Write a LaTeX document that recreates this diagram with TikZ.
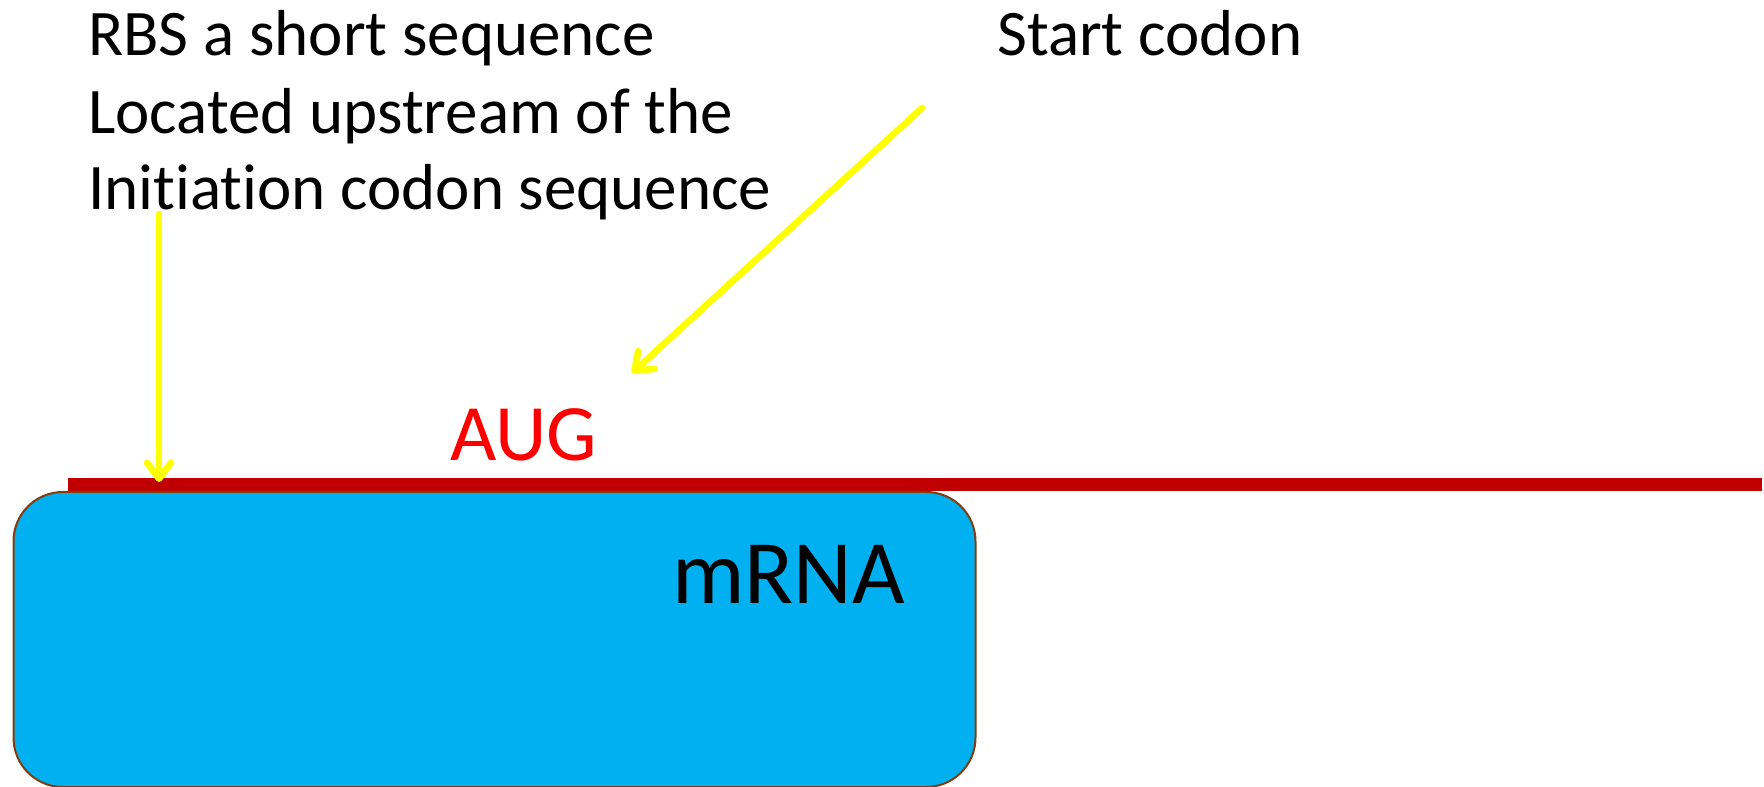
\documentclass[tikz,border=0pt]{standalone}
\usepackage{fontspec}
\setmainfont{Carlito}[Ligatures=NoCommon, RawFeature={-calt}]
\usetikzlibrary{arrows.meta}
\definecolor{strandred}{HTML}{C00000}
\definecolor{boxblue}{HTML}{00B0F0}
\definecolor{boxedge}{HTML}{843C0C}
\definecolor{pointer}{HTML}{FFFF00}
\tikzset{
  label text/.style={anchor=base west, inner sep=0pt, font=\fontsize{48.75}{58}\selectfont},
  pointer arrow/.style={draw=pointer, line width=5pt, line cap=round,
    -{Straight Barb[length=12pt, width=18pt, line cap=round, line join=round]}},
}
\begin{document}
\begin{tikzpicture}[x=0.75pt, y=-0.75pt]
  \useasboundingbox (0,0) rectangle (1764,787);

  % mRNA strand
  \coordinate (strandL) at (68,484.5);
  \coordinate (strandR) at (1762,484.5);
  \draw[strandred, line width=9.75pt] (strandL) -- (strandR);

  % ribosome-binding region box
  \node[draw=boxedge, fill=boxblue, line width=1.5pt, rounded corners=37pt,
        minimum width=962*0.75pt, minimum height=295*0.75pt, anchor=north west,
        inner sep=0pt] (rbox) at (12.5,491) {};

  \node[anchor=base west, inner sep=0pt, font=\fontsize{68}{82}\selectfont] (mrna) at (672,604) {mRNA};
  \node[anchor=base west, inner sep=0pt, font=\fontsize{60}{72}\selectfont, text=red] (aug) at (450,461) {AUG};

  % labels (t and i kept as separate glyphs)
  \node[label text] (rbs1) at (88,56) {RBS a short sequence};
  \node[label text] (rbs2) at (88,134) {Located upstream of the};
  \node[label text] (rbs3) at (88,210) {Init\kern0pt iat\kern0pt ion codon sequence};
  \node[label text] (start) at (997,56) {Start codon};

  % pointers
  \coordinate (rbsFrom) at (159,214);
  \coordinate (rbsTo) at (159,482);
  \coordinate (startFrom) at (922,108);
  \coordinate (startTo) at (632,373);
  \draw[pointer arrow] (rbsFrom) -- (rbsTo);
  \draw[pointer arrow] (startFrom) -- (startTo);
\end{tikzpicture}
\end{document}
